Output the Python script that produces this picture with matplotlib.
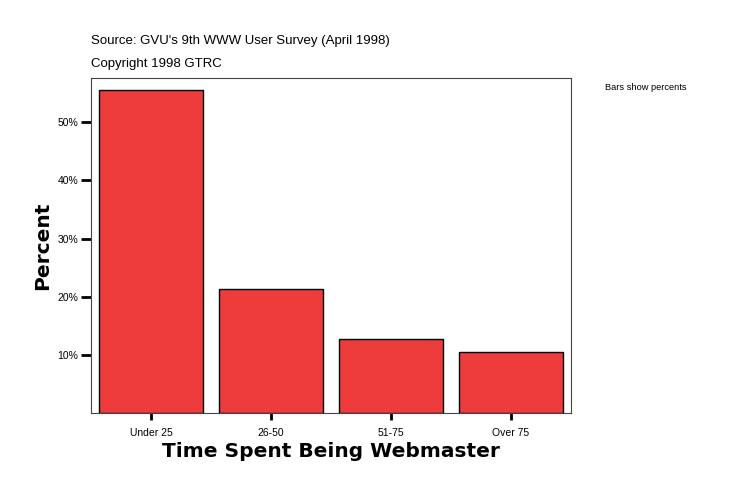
import matplotlib
matplotlib.use("Agg")
import matplotlib.pyplot as plt

categories = ["Under 25", "26-50", "51-75", "Over 75"]
percents = [55.6, 21.4, 12.8, 10.5]
ytick_vals = [10, 20, 30, 40, 50]
ytick_labels = ["10%", "20%", "30%", "40%", "50%"]

W, H = 734, 496
fig = plt.figure(figsize=(W/100, H/100), dpi=100)
ax = fig.add_axes([91/W, 1-413/H, (571-91)/W, (413-78)/H])

x = list(range(len(categories)))
ax.bar(x, percents, width=0.865, color="#EE3B3B", edgecolor="black", linewidth=1.0)
ax.set_xlim(-0.5, len(categories)-0.5)
ax.set_ylim(0, 57.6)
ax.set_yticks(ytick_vals)
ax.set_yticklabels(ytick_labels, fontsize=7.5, family="Liberation Sans")
ax.set_xticks(x)
ax.set_xticklabels(categories, fontsize=7.5, family="Liberation Sans")
ax.tick_params(axis="y", direction="out", length=7, width=2, pad=2)
ax.tick_params(axis="x", direction="out", length=5, width=2, pad=6)
for s in ax.spines.values():
    s.set_color("#444444")
    s.set_linewidth(0.8)

ax.set_xlabel("Time Spent Being Webmaster", fontsize=14.5, fontweight="heavy",
              family="DejaVu Sans", labelpad=3)
ax.set_ylabel("Percent", fontsize=14.5, fontweight="heavy", family="DejaVu Sans", labelpad=4)

fig.text(91/W, 1-41/H, "Source: GVU's 9th WWW User Survey (April 1998)", fontsize=9.5,
         family="Liberation Sans", va="center", ha="left")
fig.text(91/W, 1-64/H, "Copyright 1998 GTRC", fontsize=9.5,
         family="Liberation Sans", va="center", ha="left")
fig.text(605/W, 1-87/H, "Bars show percents", fontsize=6.7,
         family="Liberation Sans", va="center", ha="left")

fig.savefig("out.png", dpi=100)
